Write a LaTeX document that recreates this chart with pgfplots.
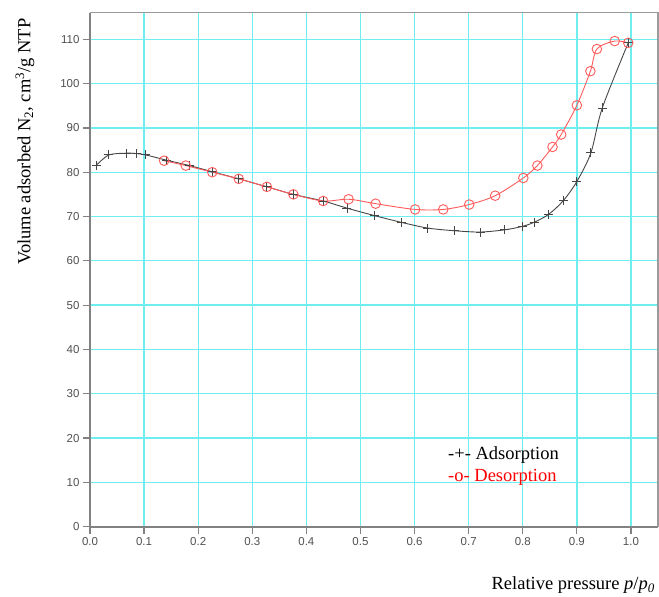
\documentclass[border=0pt]{standalone}
\usepackage{pgfplots}
\pgfplotsset{compat=1.18}
\usepackage{fontspec}
\setmainfont{Liberation Serif}
\newfontfamily\tickfont{Liberation Sans}
\definecolor{gridcyan}{RGB}{110,238,240}
\definecolor{adscol}{RGB}{70,70,70}
\definecolor{descol}{RGB}{255,90,90}
\definecolor{axgray}{RGB}{130,130,130}
\definecolor{ticklab}{RGB}{80,80,80}
\begin{document}
\begin{tikzpicture}
\useasboundingbox (-90bp,-70.3bp) rectangle (569bp,526.7bp);
\begin{axis}[
  scale only axis,
  width=568bp, height=514bp,
  xmin=0, xmax=1.05, ymin=0, ymax=116,
  xtick={0,0.1,0.2,0.3,0.4,0.5,0.6,0.7,0.8,0.9,1.0},
  ytick={0,10,20,30,40,50,60,70,80,90,100,110},
  axis lines=left,
  axis line style={-, axgray, line width=2bp},
  grid=major,
  grid style={gridcyan, line width=1.3bp},
  tick align=outside,
  major tick length=7bp,
  tick style={axgray, line width=1.2bp},
  xticklabel style={/pgf/number format/fixed, /pgf/number format/fixed zerofill, /pgf/number format/precision=1, font=\tickfont\fontsize{11.5bp}{13bp}\selectfont, text=ticklab},
  yticklabel style={font=\tickfont\fontsize{11.5bp}{13bp}\selectfont, text=ticklab},
  /pgf/number format/assume math mode=true,
  clip=false,
]
\draw[axgray!80, line width=1.3bp] (rel axis cs:0,1) -- (rel axis cs:1,1) -- (rel axis cs:1,0);
\addplot[adscol, line width=0.9bp, smooth, mark=+, mark size=4.5bp, mark options={line width=0.9bp}] coordinates {
(0.012,81.6) (0.035,83.9) (0.068,84.3) (0.086,84.2) (0.103,83.9)
(0.142,82.7) (0.184,81.5) (0.226,80.1) (0.275,78.5) (0.327,76.7)
(0.376,75.0) (0.431,73.5) (0.475,71.9) (0.526,70.2) (0.575,68.7)
(0.624,67.4) (0.673,66.8) (0.721,66.5) (0.767,67.0) (0.800,67.8)
(0.821,68.7) (0.848,70.5) (0.875,73.6) (0.900,77.9) (0.926,84.4)
(0.947,94.5) (0.995,109.2)
};
\addplot[descol, line width=0.9bp, smooth, mark=o, mark size=4.8bp, mark options={line width=0.9bp}] coordinates {
(0.995,109.2) (0.970,109.6) (0.937,107.8) (0.925,102.8) (0.900,95.1)
(0.871,88.5) (0.855,85.7) (0.827,81.5) (0.801,78.7) (0.749,74.7)
(0.701,72.7) (0.653,71.6) (0.601,71.6) (0.528,72.9) (0.478,73.9)
(0.431,73.5) (0.376,75.0) (0.327,76.7) (0.275,78.5) (0.226,80.0)
(0.177,81.5) (0.137,82.6)
};
\end{axis}
\node[anchor=west, text=black, font=\fontsize{18.5bp}{21bp}\selectfont, inner sep=0pt] at (358bp,71.7bp) {-+- Adsorption};
\node[anchor=west, text=red, font=\fontsize{18.5bp}{21bp}\selectfont, inner sep=0pt] at (358bp,49.7bp) {-o- Desorption};
\node[anchor=east, font=\fontsize{18.5bp}{21bp}\selectfont, inner sep=0pt] at (565bp,-58.3bp) {Relative pressure \textit{p}/\textit{p\textsubscript{0}}};
\node[rotate=90, anchor=center, font=\fontsize{18.5bp}{21bp}\selectfont, inner sep=0pt] at (-65bp,385bp) {Volume adsorbed N\textsubscript{2}, cm\textsuperscript{3}/g NTP};
\end{tikzpicture}
\end{document}
